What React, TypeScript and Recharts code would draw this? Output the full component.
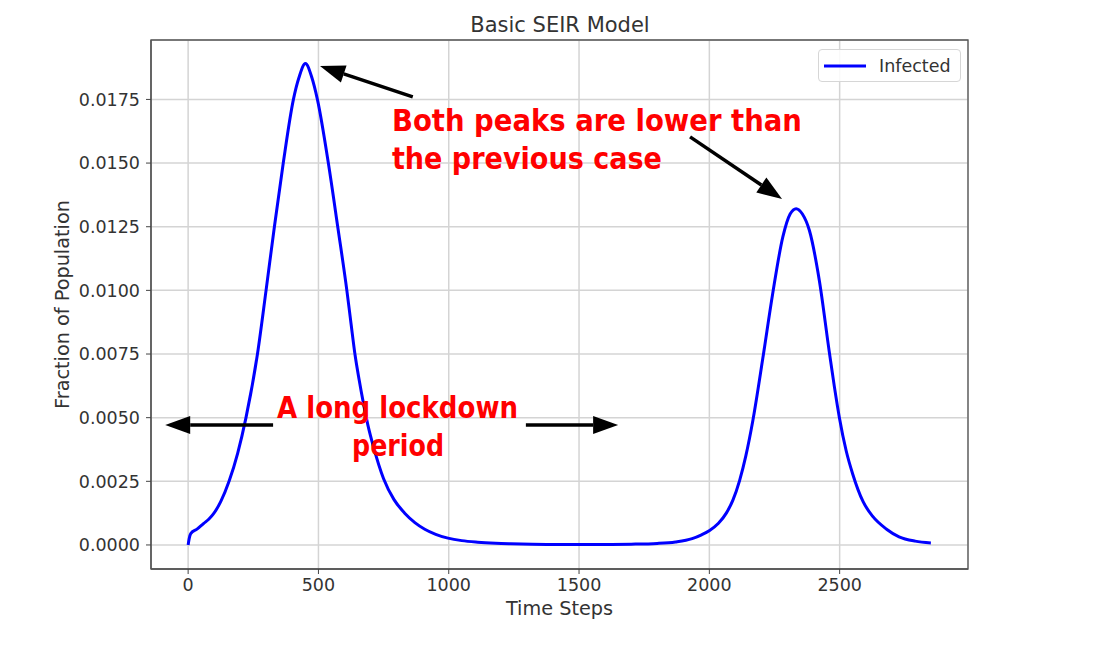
import React from 'react';
import {
  LineChart,
  Line,
  XAxis,
  YAxis,
  CartesianGrid,
  Legend,
  ReferenceArea,
  ReferenceLine,
  ReferenceDot,
} from 'recharts';

// time steps
const timeSteps = [
  0, 4, 10, 34, 60, 80, 97, 125, 157, 190, 222, 266, 299, 331, 365, 404, 425, 450, 475, 496,
  538, 574, 609, 625, 640, 656, 672, 690, 710, 750, 790, 832, 870, 908, 950, 997, 1050, 1111,
  1180, 1238, 1320, 1400, 1550, 1700, 1800, 1870, 1934, 1970, 2001, 2035, 2065, 2090, 2116,
  2140, 2167, 2205, 2243, 2282, 2310, 2333, 2357, 2384, 2422, 2460, 2480, 2499, 2525, 2550,
  2590, 2627, 2680, 2728, 2790, 2850,
];

// fraction of the population infected
const infected = [
  0, 0.00025, 0.00045, 0.00062, 0.00085, 0.00102, 0.00122, 0.0017, 0.0025, 0.0036, 0.005,
  0.0075, 0.01, 0.0125, 0.015, 0.0175, 0.01835, 0.01891, 0.01835, 0.0175, 0.015, 0.0125, 0.01,
  0.0087, 0.0075, 0.0065, 0.0056, 0.0047, 0.0039, 0.0026, 0.00178, 0.00124, 0.00088, 0.00062,
  0.00042, 0.00027, 0.00017, 0.00011, 0.00007, 0.00005, 0.00003, 0.00002, 0.000015, 0.00003,
  0.00006, 0.00012, 0.00025, 0.0004, 0.00057, 0.00085, 0.00125, 0.00175, 0.00253, 0.0035,
  0.00489, 0.00732, 0.00987, 0.0121, 0.013, 0.01321, 0.013, 0.01235, 0.01039, 0.0076, 0.0062,
  0.005, 0.0037, 0.00279, 0.0017, 0.00112, 0.00062, 0.00032, 0.00015, 0.00008,
];

const xTicks = [0, 500, 1000, 1500, 2000, 2500];
const yTicks = [0, 0.0025, 0.005, 0.0075, 0.01, 0.0125, 0.015, 0.0175];

// matplotlib style 5% margins
const xDomain = [-142.5, 2992.5];
const yDomain = [-0.000944, 0.019834];

// annotation arrows, in data coordinates: [tailX, tailY, tipX, tipY]
const arrows = [
  [862, 0.0176, 506, 0.01881],
  [1926, 0.01603, 2279, 0.01359],
  [326, 0.00471, -88, 0.00471],
  [1296, 0.00471, 1650, 0.00471],
];

// annotation texts, anchored at the start of the baseline
const notes = [
  { text: 'Both peaks are lower than', x: 782, y: 0.01626, len: 410 },
  { text: 'the previous case', x: 782, y: 0.01477, len: 270 },
  { text: 'A long lockdown', x: 341, y: 0.00499, len: 241 },
  { text: 'period', x: 629, y: 0.0035, len: 92 },
];

const FONT = '"DejaVu Sans", sans-serif';
const TEXT = '#333333';

const chartData = timeSteps.map((t, i) => ({ t, infected: infected[i] }));

const Arrow = (props: any) => {
  const { x1, y1, x2, y2 } = props;
  const dx = x2 - x1;
  const dy = y2 - y1;
  const len = Math.sqrt(dx * dx + dy * dy) || 1;
  const ux = dx / len;
  const uy = dy / len;
  const head = 25;
  const half = 9;
  const bx = x2 - ux * head;
  const by = y2 - uy * head;
  return (
    <g>
      <line x1={x1} y1={y1} x2={bx} y2={by} stroke="#000" strokeWidth={3.5} />
      <polygon
        points={`${x2},${y2} ${bx - uy * half},${by + ux * half} ${bx + uy * half},${by - ux * half}`}
        fill="#000"
      />
    </g>
  );
};

const noteShape = (text: string, len: number) => (props: any) => (
  <text
    x={props.cx}
    y={props.cy}
    fill="#ff0000"
    fontSize={30}
    fontWeight="bold"
    fontFamily='"Comic Sans MS", "DejaVu Sans", sans-serif'
    textLength={len}
    lengthAdjust="spacingAndGlyphs"
  >
    {text}
  </text>
);

const LegendBox = () => (
  <div
    style={{
      width: 143,
      height: 33,
      boxSizing: 'border-box',
      border: '1px solid #d6d6d6',
      borderRadius: 4,
      background: 'rgba(255,255,255,0.85)',
      display: 'flex',
      alignItems: 'center',
      fontFamily: FONT,
      fontSize: 17.5,
      color: TEXT,
    }}
  >
    <svg width={52} height={10}>
      <line x1={5} y1={5} x2={47} y2={5} stroke="#0000ff" strokeWidth={3} />
    </svg>
    <span style={{ marginLeft: 8 }}>Infected</span>
  </div>
);

export default function App() {
  return (
    <div style={{ position: 'absolute', left: 0, top: 0, width: 1119, height: 647, background: '#fff' }}>
      <svg
        width={1119}
        height={40}
        style={{ position: 'absolute', left: 0, top: 0, pointerEvents: 'none' }}
      >
        <text x={560} y={32} textAnchor="middle" fontFamily={FONT} fontSize={21} fill={TEXT}>
          Basic SEIR Model
        </text>
      </svg>
      <LineChart
        width={1119}
        height={647}
        data={chartData}
        margin={{ top: 40, right: 151, bottom: 0, left: 0 }}
      >
        <CartesianGrid stroke="#d4d4d4" strokeWidth={1.5} />
        <XAxis
          dataKey="t"
          type="number"
          domain={xDomain}
          ticks={xTicks}
          allowDataOverflow
          height={78}
          tickSize={5}
          tickMargin={5}
          tick={{ fill: TEXT, fontSize: 17.5, fontFamily: FONT }}
          tickLine={{ stroke: '#444' }}
          axisLine={{ stroke: '#555', strokeWidth: 1.3 }}
          label={{
            value: 'Time Steps',
            position: 'insideBottom',
            offset: 32,
            style: { fill: TEXT, fontSize: 19.25, fontFamily: FONT },
          }}
        />
        <YAxis
          type="number"
          domain={yDomain}
          ticks={yTicks}
          allowDataOverflow
          width={151}
          tickSize={5}
          tickMargin={6}
          tickFormatter={(v: number) => v.toFixed(4)}
          tick={{ fill: TEXT, fontSize: 17.5, fontFamily: FONT }}
          tickLine={{ stroke: '#444' }}
          axisLine={{ stroke: '#555', strokeWidth: 1.3 }}
          label={{
            value: 'Fraction of Population',
            angle: -90,
            position: 'insideLeft',
            offset: 62,
            style: { fill: TEXT, fontSize: 19.25, fontFamily: FONT, textAnchor: 'middle' },
          }}
        />
        <ReferenceArea
          x1={xDomain[0]}
          x2={xDomain[1]}
          y1={yDomain[0]}
          y2={yDomain[1]}
          fill="none"
          fillOpacity={0}
          stroke="#555"
          strokeWidth={1.3}
          ifOverflow="visible"
        />
        <Legend
          layout="horizontal"
          verticalAlign="middle"
          align="center"
          wrapperStyle={{ top: 49, left: 818, width: 143, height: 33 }}
          content={() => <LegendBox />}
        />
        <Line
          type="monotone"
          dataKey="infected"
          name="Infected"
          stroke="#0000ff"
          strokeWidth={3}
          dot={false}
          activeDot={false}
          isAnimationActive={false}
        />
        {arrows.map(([tx, ty, hx, hy], i) => (
          <ReferenceLine
            key={`arrow-${i}`}
            segment={[
              { x: tx, y: ty },
              { x: hx, y: hy },
            ]}
            ifOverflow="visible"
            shape={Arrow}
          />
        ))}
        {notes.map((n, i) => (
          <ReferenceDot
            key={`note-${i}`}
            x={n.x}
            y={n.y}
            r={0}
            ifOverflow="visible"
            shape={noteShape(n.text, n.len)}
          />
        ))}
      </LineChart>
    </div>
  );
}
